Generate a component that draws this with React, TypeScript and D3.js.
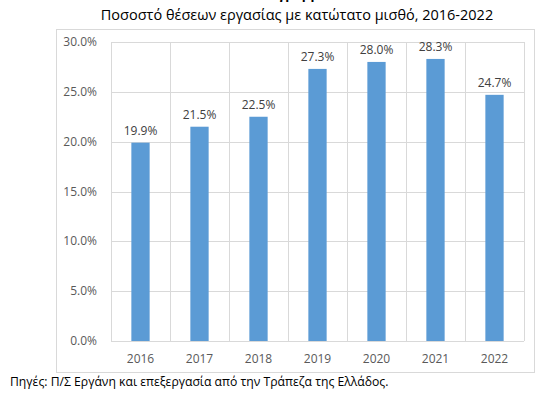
import * as d3 from "d3";
import { useEffect } from "react";

const years = ["2016", "2017", "2018", "2019", "2020", "2021", "2022"];
const shares = [19.9, 21.5, 22.5, 27.3, 28.0, 28.3, 24.7];
const yTicks = [0, 5, 10, 15, 20, 25, 30];

const width = 539;
const height = 397;
const plot = { left: 111, right: 524, top: 42, bottom: 341 };
const font = "'Open Sans', 'Liberation Sans', sans-serif";

export default function App() {
  useEffect(() => {
    document.body.style.margin = "0";
  }, []);

  const x = d3.scaleBand<string>().domain(years).range([plot.left, plot.right]).paddingInner(0).paddingOuter(0);
  const y = d3.scaleLinear().domain([0, 30]).range([plot.bottom, plot.top]);
  const barWidth = x.bandwidth() * 0.31;

  return (
    <svg width={width} height={height} style={{ display: "block", background: "#fff" }} fontFamily={font}>
      {/* cut-off heading from the page above */}
      <text x={297} y={-1} textAnchor="middle" fontSize={13} fontWeight="bold" fill="#000">
        Διάγραμμα 4
      </text>
      <text x={297} y={20} textAnchor="middle" fontSize={14.5} fill="#000">
        Ποσοστό θέσεων εργασίας με κατώτατο μισθό, 2016-2022
      </text>

      <rect x={56.5} y={29.5} width={478} height={343} fill="#fff" stroke="#d9d9d9" />

      {yTicks.map((t) => (
        <g key={t}>
          <line x1={plot.left} x2={plot.right} y1={Math.round(y(t)) + 0.5} y2={Math.round(y(t)) + 0.5} stroke="#d9d9d9" />
          <text x={97} y={y(t) + 4} textAnchor="end" fontSize={12} fill="#595959">
            {t.toFixed(1)}%
          </text>
        </g>
      ))}

      {[...years, "end"].map((yr, i) => {
        const gx = Math.round(plot.left + i * x.step()) + 0.5;
        return <line key={yr} x1={gx} x2={gx} y1={plot.top} y2={plot.bottom} stroke="#d9d9d9" />;
      })}

      {years.map((yr, i) => {
        const cx = (x(yr) ?? 0) + x.bandwidth() / 2;
        const top = y(shares[i]);
        return (
          <g key={yr}>
            <rect x={cx - barWidth / 2} y={top} width={barWidth} height={plot.bottom - top} fill="#5b9bd5" />
            <text x={cx} y={top - 8} textAnchor="middle" fontSize={12} fill="#404040">
              {shares[i].toFixed(1)}%
            </text>
            <text x={cx} y={363} textAnchor="middle" fontSize={12} fill="#595959">
              {yr}
            </text>
          </g>
        );
      })}

      <text x={10} y={386} fontSize={12.2} fill="#000">
        Πηγές: Π/Σ Εργάνη και επεξεργασία από την Τράπεζα της Ελλάδος.
      </text>
    </svg>
  );
}
